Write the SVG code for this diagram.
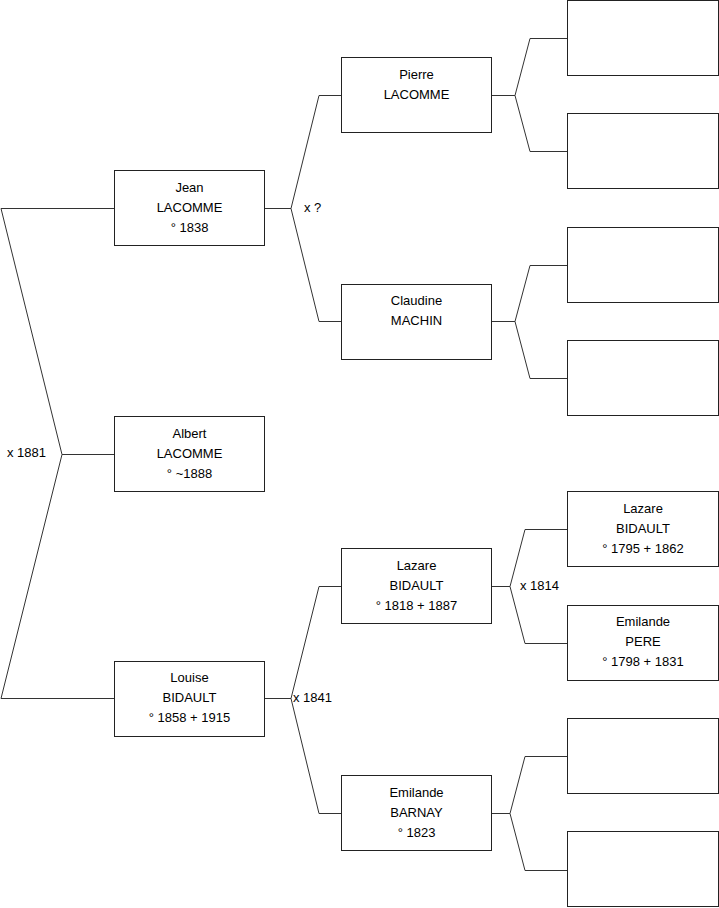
<svg xmlns="http://www.w3.org/2000/svg" width="719" height="908" viewBox="0 0 719 908">
<style>
.box{fill:#fff;stroke:#222;stroke-width:1}
.ln{fill:none;stroke:#333;stroke-width:1}
text{font-family:"Liberation Sans",Arial,sans-serif;font-size:13px;fill:#000}
.c{text-anchor:middle}
</style>
<rect width="719" height="908" fill="#fff"/>
<g id="connectors">
<polyline class="ln" points="114,208.5 1,208.5 62,454.5 1,698.5 114,698.5"/>
<line class="ln" x1="62" y1="454.5" x2="114" y2="454.5"/>
<polyline class="ln" points="341,95.5 319,95.5 291,208.5 319,321.5 341,321.5"/>
<line class="ln" x1="265" y1="208.5" x2="291" y2="208.5"/>
<polyline class="ln" points="341,586.5 319,586.5 291,698.5 319,813.5 341,813.5"/>
<line class="ln" x1="265" y1="698.5" x2="291" y2="698.5"/>
<polyline class="ln" points="567,38.5 530,38.5 515,95.5 530,151.5 567,151.5"/>
<line class="ln" x1="492" y1="95.5" x2="515" y2="95.5"/>
<polyline class="ln" points="567,265.5 530,265.5 515,321.5 530,378.5 567,378.5"/>
<line class="ln" x1="492" y1="321.5" x2="515" y2="321.5"/>
<polyline class="ln" points="567,529.5 525,529.5 510,586.5 525,643.5 567,643.5"/>
<line class="ln" x1="492" y1="586.5" x2="510" y2="586.5"/>
<polyline class="ln" points="567,756.5 525,756.5 510,813.5 525,870.5 567,870.5"/>
<line class="ln" x1="492" y1="813.5" x2="510" y2="813.5"/>
<text x="7" y="457">x 1881</text>
<text x="304" y="212">x ?</text>
<text x="293" y="702">x 1841</text>
<text x="520" y="590">x 1814</text>
</g>
<g id="jean"><rect class="box" x="114.5" y="170.5" width="150" height="75"/>
<text class="c" x="189.5" y="192">Jean</text><text class="c" x="189.5" y="212">LACOMME</text><text class="c" x="189.5" y="232">° 1838</text></g>
<g id="albert"><rect class="box" x="114.5" y="416.5" width="150" height="75"/>
<text class="c" x="189.5" y="438">Albert</text><text class="c" x="189.5" y="458">LACOMME</text><text class="c" x="189.5" y="478">° ~1888</text></g>
<g id="louise"><rect class="box" x="114.5" y="661.5" width="150" height="75"/>
<text class="c" x="189.5" y="682">Louise</text><text class="c" x="189.5" y="702">BIDAULT</text><text class="c" x="189.5" y="722">° 1858 + 1915</text></g>
<g id="pierre"><rect class="box" x="341.5" y="57.5" width="150" height="75"/>
<text class="c" x="416.5" y="79">Pierre</text><text class="c" x="416.5" y="99">LACOMME</text></g>
<g id="claudine"><rect class="box" x="341.5" y="284.5" width="150" height="75"/>
<text class="c" x="416.5" y="305">Claudine</text><text class="c" x="416.5" y="325">MACHIN</text></g>
<g id="lazare2"><rect class="box" x="341.5" y="548.5" width="150" height="75"/>
<text class="c" x="416.5" y="570">Lazare</text><text class="c" x="416.5" y="590">BIDAULT</text><text class="c" x="416.5" y="610">° 1818 + 1887</text></g>
<g id="emilande2"><rect class="box" x="341.5" y="775.5" width="150" height="75"/>
<text class="c" x="416.5" y="797">Emilande</text><text class="c" x="416.5" y="817">BARNAY</text><text class="c" x="416.5" y="837">° 1823</text></g>
<g id="g3a"><rect class="box" x="567.5" y="0.5" width="151" height="75"/></g>
<g id="g3b"><rect class="box" x="567.5" y="113.5" width="151" height="75"/></g>
<g id="g3c"><rect class="box" x="567.5" y="227.5" width="151" height="75"/></g>
<g id="g3d"><rect class="box" x="567.5" y="340.5" width="151" height="75"/></g>
<g id="lazare3"><rect class="box" x="567.5" y="491.5" width="151" height="75"/>
<text class="c" x="643" y="513">Lazare</text><text class="c" x="643" y="533">BIDAULT</text><text class="c" x="643" y="553">° 1795 + 1862</text></g>
<g id="emilande3"><rect class="box" x="567.5" y="605.5" width="151" height="75"/>
<text class="c" x="643" y="626">Emilande</text><text class="c" x="643" y="646">PERE</text><text class="c" x="643" y="666">° 1798 + 1831</text></g>
<g id="g3g"><rect class="box" x="567.5" y="718.5" width="151" height="75"/></g>
<g id="g3h"><rect class="box" x="567.5" y="831.5" width="151" height="75"/></g>
</svg>
